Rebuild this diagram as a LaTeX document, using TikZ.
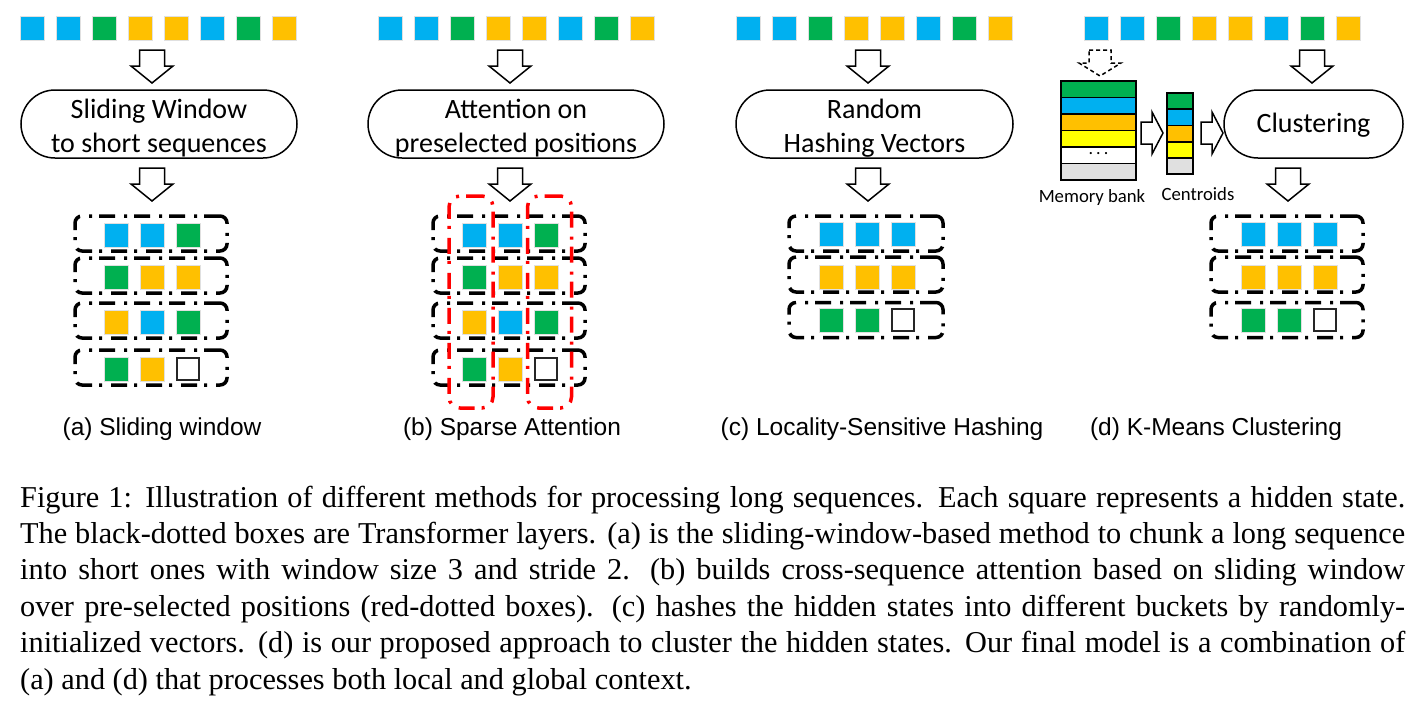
\documentclass[tikz,border=0pt]{standalone}
\usepackage{fontspec}
\setmainfont{Liberation Serif}
\newfontfamily\calfont{Carlito}
\newfontfamily\arialfont{Liberation Sans}
\usetikzlibrary{shapes.misc}
\definecolor{cblue}{HTML}{00B0F0}
\definecolor{cgreen}{HTML}{00B050}
\definecolor{corange}{HTML}{FFC000}
\definecolor{cyellow}{HTML}{FFFF00}
\definecolor{cgray}{HTML}{E0E0E0}
\definecolor{cred}{HTML}{FF0000}
\tikzset{
  sq/.style={minimum size=24pt, inner sep=0pt, draw=black!12, line width=0.6pt},
  emptysq/.style={minimum size=22pt, inner sep=0pt, draw=black!85, line width=2pt, fill=white},
  layer/.style={draw, line width=3.5pt, rounded corners=7pt, inner sep=0pt,
    dash pattern=on 16pt off 7pt on 3pt off 9pt, minimum width=152pt, minimum height=35pt},
  redlayer/.style={draw=cred, line width=3.5pt, rounded corners=11pt, inner sep=0pt,
    dash pattern=on 16pt off 7pt on 3pt off 9pt, minimum width=44pt, minimum height=212pt},
  proc/.style={rounded rectangle, draw, line width=1.5pt, minimum height=68pt, inner sep=0pt,
    font=\calfont\fontsize{28}{34}\selectfont, align=center},
  arrowline/.style={draw, line width=1.5pt, fill=white, line join=miter},
  lab/.style={font=\arialfont\fontsize{24.5}{28}\selectfont, anchor=base, inner sep=0pt},
  small/.style={font=\calfont\fontsize{18.7}{22}\selectfont, anchor=base, inner sep=0pt},
  stripe/.style={draw, line width=1.8pt, inner sep=0pt},
  capline/.style={font=\fontsize{30.3}{36}\selectfont, anchor=base west, inner sep=0pt},
  downarrow/.pic={\path[arrowline] (-12.5,0) -- (12.5,0) -- (12.5,16) -- (21,16) -- (0,33) -- (-21,16) -- (-12.5,16) -- cycle;},
  dasharrow/.pic={\path[arrowline, dash pattern=on 4pt off 3pt] (-11,0) -- (11,0) -- (11,13) -- (21,13) -- (0,26) -- (-21,13) -- (-11,13) -- cycle;},
  rightarrow/.pic={\path[arrowline] (0,-11) -- (11,-11) -- (11,-21) -- (22,0) -- (11,21) -- (11,11) -- (0,11) -- cycle;}
}
\newcommand\toprow[2]{%
  \foreach \c [count=\i] in {cblue,cblue,cgreen,corange,corange,cblue,cgreen,corange}
    \node[sq, fill=\c] (#1t\i) at ({#2+32+36*(\i-1)},28) {};}
\newcommand\sqrow[6]{% prefix, xoffset, y, c1, c2, c3
  \node[sq, fill=#4] (#1a) at ({#2+116},#3) {};
  \node[sq, fill=#5] (#1b) at ({#2+152},#3) {};
  \node[sq, fill=#6] (#1c) at ({#2+188},#3) {};}
\newcommand\sqrowe[5]{% prefix, xoffset, y, c1, c2 (+ empty)
  \node[sq, fill=#4] (#1a) at ({#2+116},#3) {};
  \node[sq, fill=#5] (#1b) at ({#2+152},#3) {};
  \node[emptysq] (#1c) at ({#2+188},#3) {};}
\newcommand\tallstrut{\rule{0pt}{27pt}}
\begin{document}
\begin{tikzpicture}[x=1pt, y=-1pt]
\useasboundingbox (0,0) rectangle (1427,713);
\fill[white] (0,0) rectangle (1427,713);

% ---------------- (a) ----------------
\toprow{a}{0}
\pic (aarr1) at (152,50) {downarrow};
\node[proc, minimum width=276pt] (abox) at (159,124) {\tallstrut Sliding Window\\to short sequences};
\pic (aarr2) at (152,168) {downarrow};
\node[layer] (al1) at (151,233.5) {};
\node[layer] (al2) at (151,275.5) {};
\node[layer] (al3) at (151,320.5) {};
\node[layer] (al4) at (151,367.5) {};
\sqrow{ar1}{0}{235}{cblue}{cblue}{cgreen}
\sqrow{ar2}{0}{277}{cgreen}{corange}{corange}
\sqrow{ar3}{0}{322}{corange}{cblue}{cgreen}
\sqrowe{ar4}{0}{369}{cgreen}{corange}
\node[lab] (alab) at (162,435) {(a) Sliding window};

% ---------------- (b) ----------------
\toprow{b}{358}
\pic (barr1) at (510,50) {downarrow};
\node[proc, minimum width=296pt] (bbox) at (516,124) {\tallstrut Attention on\\preselected positions};
\node[layer] (bl1) at (509,233.5) {};
\node[layer] (bl2) at (509,275.5) {};
\node[layer] (bl3) at (509,320.5) {};
\node[layer] (bl4) at (509,367.5) {};
\sqrow{br1}{358}{235}{cblue}{cblue}{cgreen}
\sqrow{br2}{358}{277}{cgreen}{corange}{corange}
\sqrow{br3}{358}{322}{corange}{cblue}{cgreen}
\sqrowe{br4}{358}{369}{cgreen}{corange}
\pic (barr2) at (510,168) {downarrow};
\node[redlayer] (bred1) at (471,302) {};
\node[redlayer] (bred2) at (549.5,302) {};
\node[lab] (blab) at (512,435) {(b) Sparse Attention};

% ---------------- (c) ----------------
\toprow{c}{716}
\pic (carr1) at (868,50) {downarrow};
\node[proc, minimum width=277pt] (cbox) at (874.5,124) {\tallstrut Random\\Hashing Vectors};
\pic (carr2) at (868,168) {downarrow};
\node[layer, minimum width=154pt] (cl1) at (866,233.5) {};
\node[layer, minimum width=154pt] (cl2) at (866,274.5) {};
\node[layer, minimum width=154pt] (cl3) at (866,320) {};
\sqrow{cr1}{715}{234}{cblue}{cblue}{cblue}
\sqrow{cr2}{715}{277}{corange}{corange}{corange}
\sqrowe{cr3}{715}{320}{cgreen}{cgreen}
\node[lab] (clab) at (882,435) {(c) Locality-Sensitive Hashing};

% ---------------- (d) ----------------
\toprow{d}{1064}
\pic (ddash) at (1100,50) {dasharrow};
\node[stripe, fill=cgreen, minimum width=75pt, minimum height=16.5pt] (m1) at (1098.5,89.25) {};
\node[stripe, fill=cblue, minimum width=75pt, minimum height=16.5pt] (m2) at (1098.5,105.75) {};
\node[stripe, fill=corange, minimum width=75pt, minimum height=16.5pt] (m3) at (1098.5,122.25) {};
\node[stripe, fill=cyellow, minimum width=75pt, minimum height=16.5pt] (m4) at (1098.5,138.75) {};
\node[stripe, fill=white, minimum width=75pt, minimum height=16.5pt, font=\calfont\fontsize{18}{18}\selectfont] (m5) at (1098.5,155.25) {\raisebox{3pt}{.\hspace{3pt}.\hspace{3pt}.}};
\node[stripe, fill=cgray, minimum width=75pt, minimum height=16.5pt] (m6) at (1098.5,171.75) {};
\node[small] (mlab) at (1092,202) {Memory bank};
\pic (darr1) at (1141,133) {rightarrow};
\node[stripe, fill=cgreen, minimum width=26pt, minimum height=16.2pt] (k1) at (1180,101.1) {};
\node[stripe, fill=cblue, minimum width=26pt, minimum height=16.2pt] (k2) at (1180,117.3) {};
\node[stripe, fill=corange, minimum width=26pt, minimum height=16.2pt] (k3) at (1180,133.5) {};
\node[stripe, fill=cyellow, minimum width=26pt, minimum height=16.2pt] (k4) at (1180,149.7) {};
\node[stripe, fill=cgray, minimum width=26pt, minimum height=16.2pt] (k5) at (1180,165.9) {};
\node[small] (klab) at (1198,200) {Centroids};
\pic (darr2) at (1201,133) {rightarrow};
\pic (darr3) at (1312,50) {downarrow};
\node[proc, minimum width=179pt] (dbox) at (1313.5,124) {\rule{0pt}{22pt}Clustering};
\pic (darr4) at (1288,168) {downarrow};
\node[layer] (dl1) at (1287,233.5) {};
\node[layer] (dl2) at (1287,274.5) {};
\node[layer] (dl3) at (1287,320) {};
\sqrow{dr1}{1137}{234}{cblue}{cblue}{cblue}
\sqrow{dr2}{1137}{277}{corange}{corange}{corange}
\sqrowe{dr3}{1137}{320}{cgreen}{cgreen}
\node[lab] (dlab) at (1216,435) {(d) K-Means Clustering};

% ---------------- caption ----------------
\node[capline] (cap1) at (20,507) {\makebox[1385pt][s]{Figure 1: Illustration of different methods for processing long sequences. Each square represents a hidden state.}};
\node[capline] (cap2) at (20,543.4) {\makebox[1385pt][s]{The black-dotted boxes are Transformer layers. (a) is the sliding-window-based method to chunk a long sequence}};
\node[capline] (cap3) at (20,579.8) {\makebox[1385pt][s]{into short ones with window size 3 and stride 2. (b) builds cross-sequence attention based on sliding window}};
\node[capline] (cap4) at (20,616.2) {\makebox[1385pt][s]{over pre-selected positions (red-dotted boxes). (c) hashes the hidden states into different buckets by randomly-}};
\node[capline] (cap5) at (20,652.6) {\makebox[1385pt][s]{initialized vectors. (d) is our proposed approach to cluster the hidden states. Our final model is a combination of}};
\node[capline] (cap6) at (20,689) {(a) and (d) that processes both local and global context.};
\end{tikzpicture}
\end{document}
